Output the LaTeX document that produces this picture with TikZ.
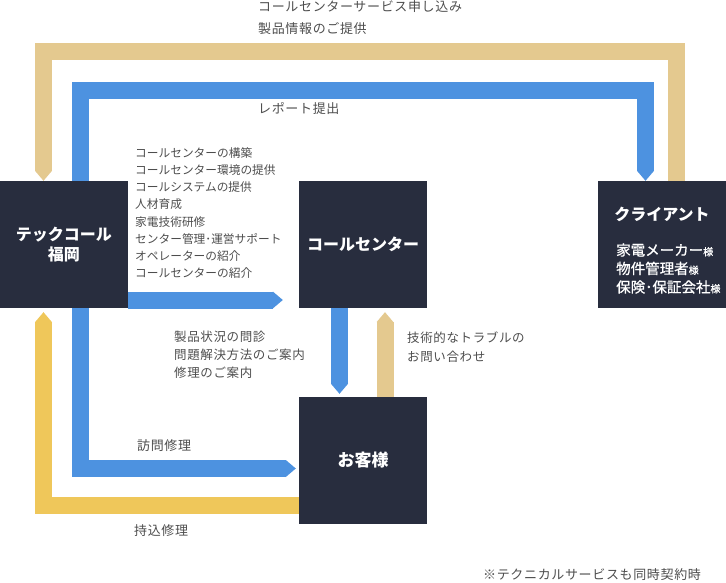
\documentclass[tikz,border=0pt]{standalone}
\usepackage{fontspec}
\setmainfont{Noto Sans CJK JP}
\newfontfamily\jpsp[LetterSpace=5]{Noto Sans CJK JP}
\newfontfamily\jpmed[FakeBold=0.8]{Noto Sans CJK JP}
\usetikzlibrary{arrows.meta}
\definecolor{boxc}{HTML}{282D3E}
\definecolor{tanc}{HTML}{E4C98F}
\definecolor{yelc}{HTML}{EFC75A}
\definecolor{bluc}{HTML}{4D92E0}
\definecolor{txtc}{HTML}{4D4D4D}
\newcommand\smsama{{\fontsize{10}{10}\selectfont 様}}
\tikzset{
  entity/.style={fill=boxc, minimum width=128pt, minimum height=127pt, inner sep=0pt,
    text=white, font=\bfseries\fontsize{16}{20}\selectfont, align=center},
  band/.style={line width=17pt, line join=miter, -{Triangle[width=17pt,length=10pt,line width=0pt]}},
  lbl/.style={anchor=west, inner sep=0pt, text=txtc, align=left, font=\jpsp\fontsize{13}{22}\selectfont},
  intext/.style={inner sep=0pt, text=white, align=left}
}
\begin{document}
\begin{tikzpicture}[x=1pt,y=-1pt]
\useasboundingbox (0,0) rectangle (726,583);
% boxes
\node[entity] (tf) at (64,244.5) {テックコール\\福岡};
\node[entity] (cc) at (363,244.5) {コールセンター};
\node[entity] (cl) at (662,244.5) {};
\node[entity, font=\bfseries\fontsize{17}{20}\selectfont] (ok) at (363,460.5) {お客様};
\node[intext, font=\bfseries\fontsize{16}{20}\selectfont] (clt) at (662,214) {クライアント};
\node[intext, anchor=west, font=\jpmed\fontsize{14.5}{18.5}\selectfont] (cls) at (616,268.5)
  {家電メーカー\smsama\\物件管理者\smsama\\保険･保証会社\smsama};
% bands
\draw[band,tanc] ([xshift=14.5pt]cl.north) -- ++(0,-129.5) -| ([xshift=-20.5pt]tf.north);
\draw[band,bluc] ([xshift=16.5pt]tf.north) -- ++(0,-90.5) -| ([xshift=-16.5pt]cl.north);
\draw[band,bluc] ([yshift=-55.5pt]tf.east) -- ([xshift=-16pt,yshift=-55.5pt]cc.west);
\draw[band,bluc] ([xshift=-23.5pt]cc.south) -- ([xshift=-23.5pt,yshift=3pt]ok.north);
\draw[band,tanc] ([xshift=22pt]ok.north) -- ([xshift=22pt,yshift=-4pt]cc.south);
\draw[band,bluc] ([xshift=16.5pt]tf.south) |- ([xshift=-3pt,yshift=-8pt]ok.west);
\draw[band,yelc] ([yshift=-45pt]ok.west) -| ([xshift=-20.5pt,yshift=-4pt]tf.south);
% labels
\node[lbl] (t1) at (258,17.5) {コールセンターサービス申し込み\\製品情報のご提供};
\node[lbl] (t2) at (258,109) {レポート提出};
\node[lbl, font=\fontsize{11.7}{17.1}\selectfont] (t3) at (135,213)
  {コールセンターの構築\\コールセンター環境の提供\\コールシステムの提供\\人材育成\\家電技術研修\\センター管理･運営サポート\\オペレーターの紹介\\コールセンターの紹介};
\node[lbl, font=\jpsp\fontsize{12.5}{18}\selectfont] (t4) at (174,355) {製品状況の問診\\問題解決方法のご案内\\修理のご案内};
\node[lbl, font=\jpsp\fontsize{12.5}{19}\selectfont] (t5) at (407,347.5) {技術的なトラブルの\\お問い合わせ};
\node[lbl] (t6) at (137,446) {訪問修理};
\node[lbl] (t7) at (134,531) {持込修理};
\node[lbl] (t8) at (483,575) {※テクニカルサービスも同時契約時};
\end{tikzpicture}
\end{document}
